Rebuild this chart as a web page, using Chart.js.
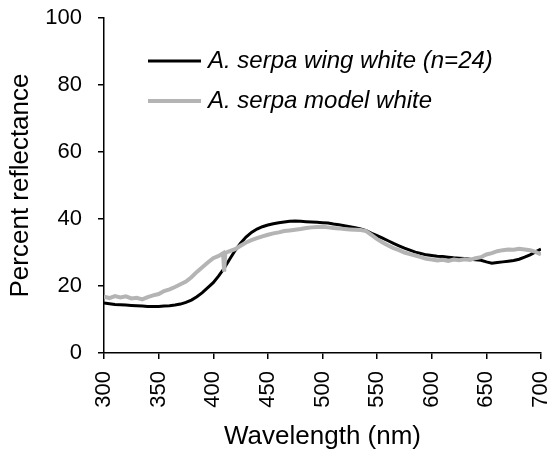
<!DOCTYPE html>
<html>
<head>
<meta charset="utf-8">
<script src="https://cdn.jsdelivr.net/npm/chart.js@4/dist/chart.umd.min.js"></script>
<style>
html,body{margin:0;padding:0;background:#fff;}
#wrap{width:553px;height:458px;position:relative;}
</style>
</head>
<body>
<div id="wrap"><canvas id="c" width="553" height="458"></canvas></div>
<script>
// Wavelength (nm) and percent reflectance
const wingWavelength = [300,305,310,315,320,325,330,335,340,345,350,355,360,365,370,375,380,385,390,395,400,405,410,415,420,425,430,435,440,445,450,455,460,465,470,475,480,485,490,495,500,505,510,515,520,525,530,535,540,545,550,555,560,565,570,575,580,585,590,595,600,605,610,615,620,625,630,635,640,645,650,655,660,665,670,675,680,685,690,695,700];
const wingWhite = [14.9,14.7,14.5,14.4,14.3,14.2,14.1,14.0,13.9,13.9,13.9,14.0,14.1,14.3,14.6,15.1,15.8,16.8,18.0,19.5,21.0,23.0,25.3,28.0,30.6,32.8,34.6,36.0,37.0,37.7,38.2,38.6,38.9,39.1,39.3,39.4,39.3,39.2,39.1,39.0,38.9,38.8,38.5,38.3,38.0,37.7,37.4,37.0,36.5,35.7,35.0,34.3,33.5,32.7,32.0,31.3,30.7,30.1,29.7,29.3,29.1,28.9,28.8,28.6,28.4,28.3,28.2,28.0,27.8,27.7,27.2,26.8,27.0,27.2,27.4,27.6,28.0,28.6,29.3,30.2,31.0];

const modelWavelength = [300,305,310,315,320,325,330,335,340,345,350,355,360,365,370,375,380,385,390,395,400,405,409,410,411,415,420,425,430,435,440,445,450,455,460,465,470,475,480,485,490,495,500,505,510,515,520,525,530,535,540,545,550,555,560,565,570,575,580,585,590,595,600,605,610,615,620,625,630,635,640,645,650,655,660,665,670,675,680,685,690,695,700];
const modelWhite = [16.8,16.4,17.0,16.6,16.9,16.3,16.5,16.0,16.7,17.2,17.6,18.5,19.0,19.7,20.5,21.3,22.6,24.2,25.6,27.0,28.3,29.0,29.8,24.3,29.9,30.4,31.0,32.0,33.0,33.7,34.3,34.8,35.3,35.7,36.0,36.4,36.6,36.8,37.0,37.3,37.5,37.6,37.7,37.5,37.3,37.2,37.0,36.9,36.8,36.7,36.4,35.2,34.0,33.0,32.1,31.3,30.7,30.0,29.5,29.1,28.6,28.1,27.9,27.6,27.8,27.5,27.9,27.7,28.0,27.8,28.3,28.6,29.4,29.8,30.4,30.7,30.9,30.8,31.1,30.9,30.7,30.2,29.4];

const seriesNames = ['A. serpa wing white (n=24)', 'A. serpa model white'];
const xTicks = [300,350,400,450,500,550,600,650,700];
const yTicks = [0,20,40,60,80,100];

const FONT = '"Liberation Sans", Arial, sans-serif';

const legendPlugin = {
  id: 'insideLegend',
  afterDraw(chart) {
    const ctx = chart.ctx;
    const items = [
      {ds: chart.data.datasets[0], y: 61},
      {ds: chart.data.datasets[1], y: 101}
    ];
    ctx.save();
    items.forEach(it => {
      ctx.beginPath();
      ctx.strokeStyle = it.ds.borderColor;
      ctx.lineWidth = it.ds.borderWidth;
      ctx.moveTo(148, it.y);
      ctx.lineTo(201, it.y);
      ctx.stroke();
      ctx.fillStyle = '#000';
      ctx.font = 'italic 24px ' + FONT;
      ctx.textBaseline = 'middle';
      ctx.textAlign = 'left';
      ctx.fillText(it.ds.label, 208, it.y);
    });
    ctx.restore();
  }
};

new Chart(document.getElementById('c'), {
  type: 'line',
  data: {
    datasets: [
      {
        label: seriesNames[0],
        data: wingWavelength.map((w, i) => ({x: w, y: wingWhite[i]})),
        borderColor: '#000000',
        borderWidth: 3,
        pointRadius: 0,
        tension: 0,
        fill: false,
        order: 1
      },
      {
        label: seriesNames[1],
        data: modelWavelength.map((w, i) => ({x: w, y: modelWhite[i]})),
        borderColor: '#b4b4b4',
        borderWidth: 4,
        pointRadius: 0,
        tension: 0,
        fill: false,
        order: 0
      }
    ]
  },
  options: {
    responsive: false,
    animation: false,
    devicePixelRatio: 1,
    layout: {padding: {top: 18, right: 12, bottom: 0, left: 0}},
    plugins: {legend: {display: false}, tooltip: {enabled: false}},
    scales: {
      x: {
        type: 'linear',
        min: 300,
        max: 700,
        afterBuildTicks(scale) { scale.ticks = xTicks.map(v => ({value: v})); },
        afterFit(scale) { scale.height = 105; scale.paddingLeft = 0; scale.paddingRight = 0; },
        grid: {display: true, drawOnChartArea: false, drawTicks: true, tickLength: 6, color: '#000', lineWidth: 1.5},
        border: {display: true, color: '#000', width: 1.5},
        ticks: {
          minRotation: 90, maxRotation: 90, padding: 12,
          color: '#000', font: {family: FONT, size: 22},
          callback: v => String(v)
        },
        title: {display: true, text: 'Wavelength (nm)', color: '#000', font: {family: FONT, size: 26}, padding: {top: 0, bottom: 6}}
      },
      y: {
        min: 0,
        max: 100,
        afterBuildTicks(scale) { scale.ticks = yTicks.map(v => ({value: v})); },
        afterFit(scale) { scale.width = 104; scale.paddingTop = 0; scale.paddingBottom = 0; },
        grid: {display: true, drawOnChartArea: false, drawTicks: true, tickLength: 6, color: '#000', lineWidth: 1.5},
        border: {display: true, color: '#000', width: 1.5},
        ticks: {padding: 16, color: '#000', font: {family: FONT, size: 22}, callback: v => String(v)},
        title: {display: true, text: 'Percent reflectance', color: '#000', font: {family: FONT, size: 26}, padding: {top: 5, bottom: 0}}
      }
    }
  },
  plugins: [legendPlugin]
});
</script>
</body>
</html>
